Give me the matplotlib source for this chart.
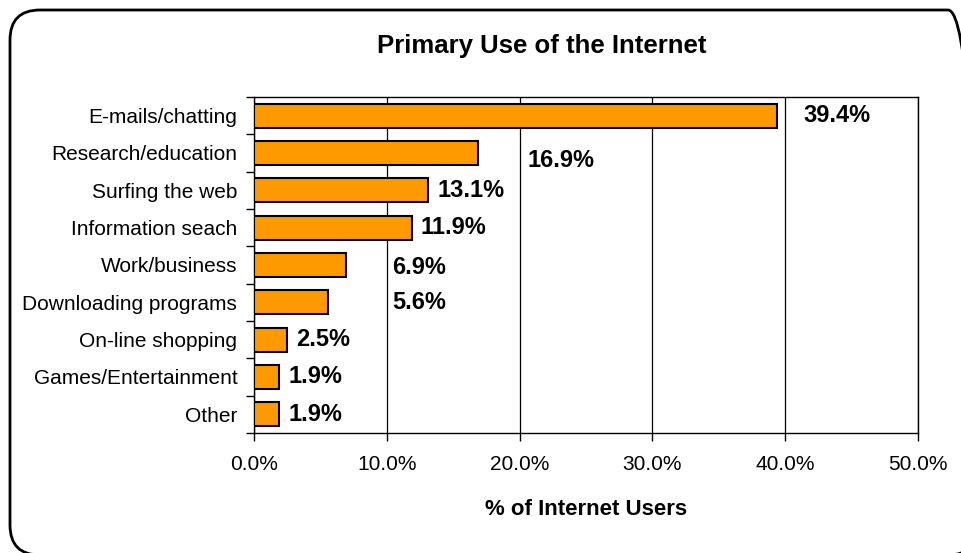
import matplotlib
matplotlib.use("Agg")
import matplotlib.pyplot as plt
import numpy as np
from matplotlib.patches import FancyBboxPatch
from matplotlib.ticker import FixedLocator, PercentFormatter

plt.rcParams["font.family"] = ["Liberation Sans", "DejaVu Sans"]

categories = ["E-mails/chatting", "Research/education", "Surfing the web", "Information seach",
              "Work/business", "Downloading programs", "On-line shopping",
              "Games/Entertainment", "Other"]
shares = [39.4, 16.9, 13.1, 11.9, 6.9, 5.6, 2.5, 1.9, 1.9]
value_labels = ["39.4%", "16.9%", "13.1%", "11.9%", "6.9%", "5.6%", "2.5%", "1.9%", "1.9%"]

# where Excel dropped the data labels (left edge of text in axis units, row offset)
label_x = [41.4, 20.6, 13.8, 12.5, 10.4, 10.4, 3.2, 2.6, 2.6]
label_dy = [0.0, 0.2, 0.0, 0.0, 0.08, 0.0, 0.0, 0.0, 0.0]

bar_color = "#FF9900"

fig = plt.figure(figsize=(9.61, 5.53), dpi=100)

# rounded chart border (inches), runs off the right and bottom edges like the original
border = FancyBboxPatch((0.10, -0.02), 9.68, 5.45, boxstyle="round,pad=0,rounding_size=0.30",
                        transform=fig.dpi_scale_trans, fill=False, edgecolor="black", linewidth=2.0)
fig.patches.append(border)

ax = fig.add_axes([0.2643, 0.2170, 0.6910, 0.6076])
y = np.arange(len(categories))
ax.barh(y, shares, height=0.65, color=bar_color, edgecolor="black", linewidth=1.5, zorder=3)

for i in range(len(categories)):
    ax.text(label_x[i], y[i] + label_dy[i], value_labels[i], fontsize=17, fontweight="bold",
            ha="left", va="center", zorder=4)

ax.set_xlim(0, 50)
ax.set_ylim(len(categories) - 0.5, -0.5)
ax.set_xticks(np.arange(0, 51, 10))
ax.xaxis.set_major_formatter(PercentFormatter(decimals=1))
ax.grid(axis="x", color="black", linewidth=0.9, zorder=1)

ax.set_yticks(y)
ax.set_yticklabels(categories, fontsize=15)
ax.yaxis.set_minor_locator(FixedLocator(np.arange(-0.5, len(categories), 1.0)))
ax.tick_params(axis="y", which="major", length=0, pad=12)
ax.tick_params(axis="y", which="minor", length=6, width=1, direction="out")
ax.tick_params(axis="x", which="major", length=6, width=1, direction="out", labelsize=15, pad=10)

for s in ax.spines.values():
    s.set_linewidth(1.0)
    s.set_color("black")

ax.set_xlabel("% of Internet Users", fontsize=16, fontweight="bold", labelpad=18)
fig.text(0.5635, 0.917, "Primary Use of the Internet", fontsize=18.5, fontweight="bold",
         ha="center", va="center")

fig.savefig("out.png", dpi=100)
